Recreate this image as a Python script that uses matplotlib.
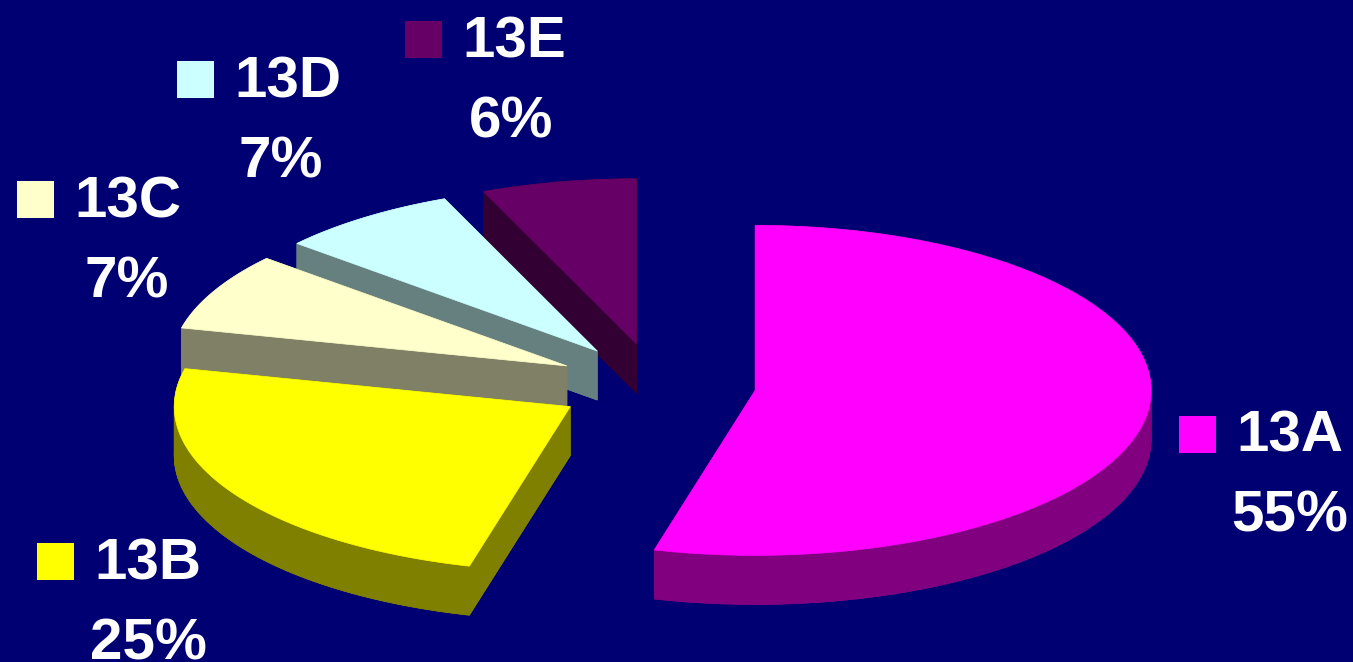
import numpy as np
import matplotlib.pyplot as plt
from matplotlib.patches import Polygon, Rectangle

# data: slice shares as drawn, and the percent labels printed on the chart
labels = ['13A', '13B', '13C', '13D', '13E']
shares = [54.1, 24.6, 7.6, 7.4, 6.3]
pct_labels = ['55%', '25%', '7%', '7%', '6%']
top_colors = ['#FF00FF', '#FFFF00', '#FFFFCC', '#CCFFFF', '#660066']
side_colors = ['#800080', '#808000', '#808066', '#668080', '#330033']

# label placement (pixel coords, y down): key square left, line-1 baseline, percent centre
label_pos = {
    '13A': (1179, 452, 1290),
    '13B': (37, 579, 148),
    '13C': (17, 217, 127),
    '13D': (177, 97, 281),
    '13E': (405, 57, 511),
}

W, H = 1353, 662
bg = '#000073'

# pie geometry in pixels
cx, cy = 656, 385
rx, ry = 396, 165
ex, ey = 100, 42
depth = 49

fig = plt.figure(figsize=(W / 100, H / 100), dpi=100, facecolor=bg)
ax = fig.add_axes([0, 0, 1, 1])
ax.set_xlim(0, W)
ax.set_ylim(H, 0)
ax.axis('off')
ax.set_facecolor(bg)

total = sum(shares)
slices = []
start = 90.0
for v, tc, sc in zip(shares, top_colors, side_colors):
    span = v / total * 360.0
    t1, t2 = start, start - span
    mid = np.radians((t1 + t2) / 2)
    px = cx + ex * np.cos(mid)
    py = cy - ey * np.sin(mid)
    t = np.radians(np.linspace(t1, t2, 80))
    xs = np.concatenate([[px], px + rx * np.cos(t)])
    ys = np.concatenate([[py], py - ry * np.sin(t)])
    slices.append((py, xs, ys, tc, sc))
    start = t2

# back to front
for py, xs, ys, tc, sc in sorted(slices, key=lambda s: s[0]):
    pts = np.column_stack([xs, ys])
    low = pts + [0, depth]
    ax.add_patch(Polygon(low, closed=True, fc=sc, ec=sc, lw=0.5))
    n = len(pts)
    for i in range(n):
        j = (i + 1) % n
        quad = [pts[i], pts[j], low[j], low[i]]
        ax.add_patch(Polygon(quad, closed=True, fc=sc, ec=sc, lw=0.5))
    ax.add_patch(Polygon(pts, closed=True, fc=tc, ec=tc, lw=0.5))

fs = 42
for lab, pl, tc in zip(labels, pct_labels, top_colors):
    kx, base, pcx = label_pos[lab]
    ax.add_patch(Rectangle((kx, base - 36), 37, 37, fc=tc, ec='none'))
    ax.text(kx + 57, base, lab, color='white', fontsize=fs, fontweight='bold',
            family='Liberation Sans', ha='left', va='baseline')
    ax.text(pcx, base + 80, pl, color='white', fontsize=fs, fontweight='bold',
            family='Liberation Sans', ha='center', va='baseline')

fig.savefig('out.png', dpi=100, facecolor=bg)
